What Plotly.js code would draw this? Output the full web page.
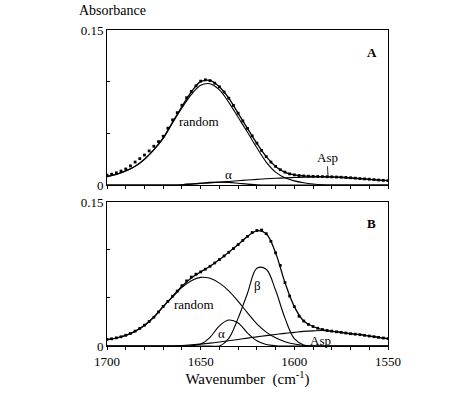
<!DOCTYPE html>
<html>
<head>
<meta charset="utf-8">
<script src="https://cdn.plot.ly/plotly-3.0.1.min.js"></script>
<style>html,body{margin:0;padding:0;background:#fff;}#chart{width:474px;height:398px;}</style>
</head>
<body>
<div id="chart"></div>
<script>
// Wavenumber grid for fitted curves (cm-1)
const waveFit = [1700,1695,1690,1685,1680,1675,1670,1665,1660,1655,1650,1645,1640,1635,1630,1625,1620,1615,1610,1605,1600,1595,1590,1585,1580,1575,1570,1565,1560,1555,1550];
// Wavenumber grid for measured points
const waveData = [1700,1697.5,1695,1692.5,1690,1687.5,1685,1682.5,1680,1677.5,1675,1672.5,1670,1667.5,1665,1662.5,1660,1657.5,1655,1652.5,1650,1647.5,1645,1642.5,1640,1637.5,1635,1632.5,1630,1627.5,1625,1622.5,1620,1617.5,1615,1612.5,1610,1607.5,1605,1602.5,1600,1597.5,1595,1592.5,1590,1587.5,1585,1582.5,1580,1577.5,1575,1572.5,1570,1567.5,1565,1562.5,1560,1557.5,1555,1552.5,1550];

// Panel A
const dataA = [0.0095,0.0105,0.0118,0.0135,0.0155,0.0185,0.0222,0.0255,0.0290,0.0330,0.0375,0.0420,0.0472,0.0550,0.0630,0.0700,0.0772,0.0845,0.0905,0.0960,0.1005,0.1018,0.1010,0.0985,0.0950,0.0900,0.0840,0.0770,0.0695,0.0620,0.0548,0.0475,0.0405,0.0335,0.0275,0.0222,0.0180,0.0148,0.0125,0.0108,0.0098,0.0092,0.0088,0.0085,0.0083,0.0082,0.0081,0.0080,0.0079,0.0077,0.0075,0.0073,0.0070,0.0066,0.0062,0.0059,0.0056,0.0052,0.0048,0.0045,0.0042];
const fitA = [0.0082,0.0104,0.0136,0.0182,0.0250,0.0342,0.0455,0.0610,0.0760,0.0900,0.1000,0.1012,0.0950,0.0840,0.0694,0.0548,0.0403,0.0274,0.0180,0.0123,0.0098,0.0088,0.0082,0.0081,0.0078,0.0075,0.0069,0.0062,0.0055,0.0048,0.0042];
const randomA = [0.0081,0.0103,0.0135,0.0180,0.0248,0.0340,0.0450,0.0600,0.0745,0.0875,0.0965,0.0980,0.0920,0.0800,0.0655,0.0510,0.0360,0.0222,0.0125,0.0070,0.0040,0.0022,0.0010,0.0003,0,0,0,0,0,0,0];
const alphaA = [0,0,0,0,0,0,0,0,0.0003,0.0010,0.0018,0.0025,0.0028,0.0025,0.0017,0.0008,0.0003,0,0,0,0,0,0,0,0,0,0,0,0,0,0];
const aspA = [0,0,0,0,0,0,0,0,0.0003,0.0008,0.0014,0.0020,0.0027,0.0034,0.0041,0.0048,0.0054,0.0060,0.0065,0.0069,0.0072,0.0075,0.0077,0.0078,0.0077,0.0074,0.0068,0.0061,0.0055,0.0048,0.0042];

// Panel B
const dataB = [0.0068,0.0075,0.0085,0.0096,0.0112,0.0130,0.0155,0.0183,0.0217,0.0255,0.0300,0.0355,0.0412,0.0465,0.0518,0.0572,0.0628,0.0678,0.0718,0.0748,0.0772,0.0800,0.0830,0.0865,0.0900,0.0938,0.0976,0.1015,0.1056,0.1100,0.1142,0.1182,0.1203,0.1208,0.1170,0.1090,0.0970,0.0840,0.0660,0.0520,0.0410,0.0310,0.0260,0.0225,0.0203,0.0185,0.0172,0.0162,0.0155,0.0148,0.0142,0.0135,0.0128,0.0123,0.0118,0.0111,0.0104,0.0097,0.0090,0.0083,0.0076];
const fitB = [0.0066,0.0083,0.0110,0.0153,0.0215,0.0300,0.0412,0.0517,0.0622,0.0708,0.0771,0.0830,0.0900,0.0976,0.1056,0.1142,0.1200,0.1170,0.0970,0.0660,0.0410,0.0260,0.0203,0.0170,0.0153,0.0142,0.0128,0.0118,0.0104,0.0090,0.0076];
const randomB = [0.0066,0.0083,0.0110,0.0153,0.0215,0.0300,0.0410,0.0512,0.0610,0.0680,0.0715,0.0705,0.0655,0.0575,0.0465,0.0345,0.0230,0.0145,0.0085,0.0045,0.0020,0.0005,0,0,0,0,0,0,0,0,0];
const alphaB = [0,0,0,0,0,0,0,0,0,0.0003,0.0020,0.0090,0.0210,0.0270,0.0240,0.0135,0.0055,0.0015,0.0003,0,0,0,0,0,0,0,0,0,0,0,0];
const betaB = [0,0,0,0,0,0,0,0,0,0,0,0,0,0.0080,0.0290,0.0550,0.0810,0.0800,0.0580,0.0290,0.0076,0.0010,0,0,0,0,0,0,0,0,0];
const aspB = [0,0,0,0,0,0,0,0,0.0005,0.0012,0.0020,0.0030,0.0042,0.0055,0.0068,0.0082,0.0095,0.0108,0.0120,0.0132,0.0142,0.0152,0.0158,0.0162,0.0153,0.0142,0.0128,0.0118,0.0104,0.0090,0.0076];

const xTickVals = [1700,1650,1600,1550];
const xTickText = ['1700','1650','1600','1550'];
const yTickVals = [0,0.15];
const yTickText = ['0','0.15'];

const LW = 1.1;
function line(x, y, xa, ya, w) {
  return {x: x, y: y, xaxis: xa, yaxis: ya, mode: 'lines', type: 'scatter',
    line: {color: '#000', width: w || LW, shape: 'spline', smoothing: 1}, hoverinfo: 'skip', showlegend: false};
}
function dots(x, y, xa, ya) {
  return {x: x, y: y, xaxis: xa, yaxis: ya, mode: 'markers', type: 'scatter',
    marker: {color: '#000', size: 2.8, symbol: 'square'}, hoverinfo: 'skip', showlegend: false};
}

const traces = [
  line(waveFit, randomA, 'x', 'y'),
  line(waveFit, alphaA, 'x', 'y'),
  line(waveFit, aspA, 'x', 'y'),
  line(waveFit, fitA, 'x', 'y', 1.3),
  dots(waveData, dataA, 'x', 'y'),
  line(waveFit, randomB, 'x2', 'y2'),
  line(waveFit, alphaB, 'x2', 'y2'),
  line(waveFit, betaB, 'x2', 'y2'),
  line(waveFit, aspB, 'x2', 'y2'),
  line(waveFit, fitB, 'x2', 'y2', 1.3),
  dots(waveData, dataB, 'x2', 'y2')
];

const serif = 'Liberation Serif, Times New Roman, serif';
function xAxis(anchor, labels) {
  return {anchor: anchor, range: [1700, 1550], autorange: false, domain: [0, 1],
    tickmode: 'array', tickvals: xTickVals, ticktext: xTickText, showticklabels: labels,
    ticks: 'outside', ticklen: 3, tickwidth: 1, tickcolor: '#000',
    minor: {dtick: 10, tick0: 1550, ticks: 'outside', ticklen: 3, tickwidth: 1, tickcolor: '#000', showgrid: false},
    showline: true, linecolor: '#000', linewidth: 1, mirror: true,
    showgrid: false, zeroline: false, tickfont: {family: serif, size: 13, color: '#000'}};
}
function yAxis(anchor, dom) {
  return {anchor: anchor, domain: dom, range: [0, 0.15], autorange: false,
    tickmode: 'array', tickvals: yTickVals, ticktext: yTickText,
    ticks: 'inside', ticklen: 3, tickwidth: 1, tickcolor: '#000',
    minor: {dtick: 0.05, tick0: 0, ticks: 'inside', ticklen: 3, tickwidth: 1, tickcolor: '#000', showgrid: false},
    showline: true, linecolor: '#000', linewidth: 1, mirror: true,
    showgrid: false, zeroline: false, tickfont: {family: serif, size: 13, color: '#000'}};
}

const layout = {
  width: 474, height: 398,
  margin: {l: 107, r: 86, t: 30, b: 52},
  paper_bgcolor: '#fff', plot_bgcolor: '#fff',
  font: {family: serif, color: '#000', size: 13},
  xaxis: xAxis('y', false),
  yaxis: yAxis('x', [0.5095, 1]),
  xaxis2: Object.assign(xAxis('y2', true), {
    title: {text: 'Wavenumber  (cm<sup>-1</sup>)', font: {family: serif, size: 15, color: '#000'}, standoff: 3}
  }),
  yaxis2: yAxis('x2', [0, 0.4557]),
  annotations: [
    {text: 'Absorbance', xref: 'paper', yref: 'paper', x: 0.021, y: 1.0, yshift: 20, xanchor: 'center', yanchor: 'middle', showarrow: false, font: {size: 14}},
    {text: '<b>A</b>', xref: 'x domain', yref: 'y domain', x: 0.943, y: 0.858, xanchor: 'center', yanchor: 'middle', showarrow: false, font: {size: 13}},
    {text: 'random', xref: 'x', yref: 'y', x: 1651, y: 0.061, showarrow: false},
    {text: 'α', xref: 'x', yref: 'y', x: 1635.4, y: 0.0097, showarrow: false},
    {text: 'Asp', xref: 'x', yref: 'y', x: 1582, y: 0.0075, ax: -1, ay: -20, showarrow: true, arrowhead: 0, arrowwidth: 0.8, arrowcolor: '#000', standoff: 0},
    {text: '<b>B</b>', xref: 'x2 domain', yref: 'y2 domain', x: 0.943, y: 0.854, xanchor: 'center', yanchor: 'middle', showarrow: false, font: {size: 13}},
    {text: 'random', xref: 'x2', yref: 'y2', x: 1653.6, y: 0.0437, showarrow: false},
    {text: 'α', xref: 'x2', yref: 'y2', x: 1639.1, y: 0.0135, showarrow: false},
    {text: 'β', xref: 'x2', yref: 'y2', x: 1619.4, y: 0.0635, showarrow: false},
    {text: 'Asp', xref: 'x2', yref: 'y2', x: 1586.3, y: 0.0062, showarrow: false}
  ]
};

Plotly.newPlot('chart', traces, layout, {displayModeBar: false, staticPlot: true});
</script>
</body>
</html>
